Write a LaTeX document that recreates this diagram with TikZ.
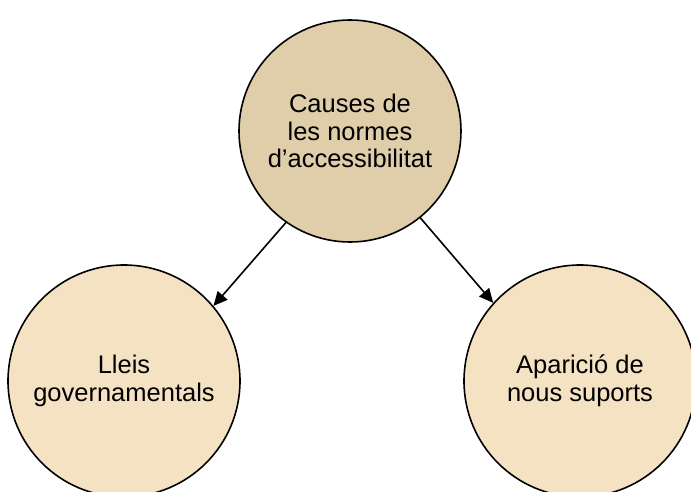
\documentclass[tikz,border=0pt]{standalone}
\usepackage{fontspec}
\setmainfont{Liberation Sans}
\usetikzlibrary{arrows.meta}
\definecolor{topfill}{RGB}{224,206,170}
\definecolor{lowfill}{RGB}{244,226,195}
\tikzset{
  bubble/.style={circle, draw=black, line width=1.6pt, inner sep=0pt, align=center,
    font=\fontsize{25.5}{27.5}\selectfont},
  link/.style={line width=1.6pt, -{Triangle[length=14pt,width=13pt]}}
}
\begin{document}
\begin{tikzpicture}[x=1pt,y=-1pt]
\useasboundingbox (0,0) rectangle (691,492);
\node[bubble, fill=topfill, minimum size=222pt] (top) at (350,131) {Causes de\\les normes\\d’accessibilitat};
\node[bubble, fill=lowfill, minimum size=232pt] (left) at (124,381) {Lleis\\governamentals};
\node[bubble, fill=lowfill, minimum size=232pt] (right) at (580,381) {Aparició de\\nous suports};
\draw[link] (top.-125) -- (left.40);
\draw[link] (top.-51) -- (right.138);
\end{tikzpicture}
\end{document}
